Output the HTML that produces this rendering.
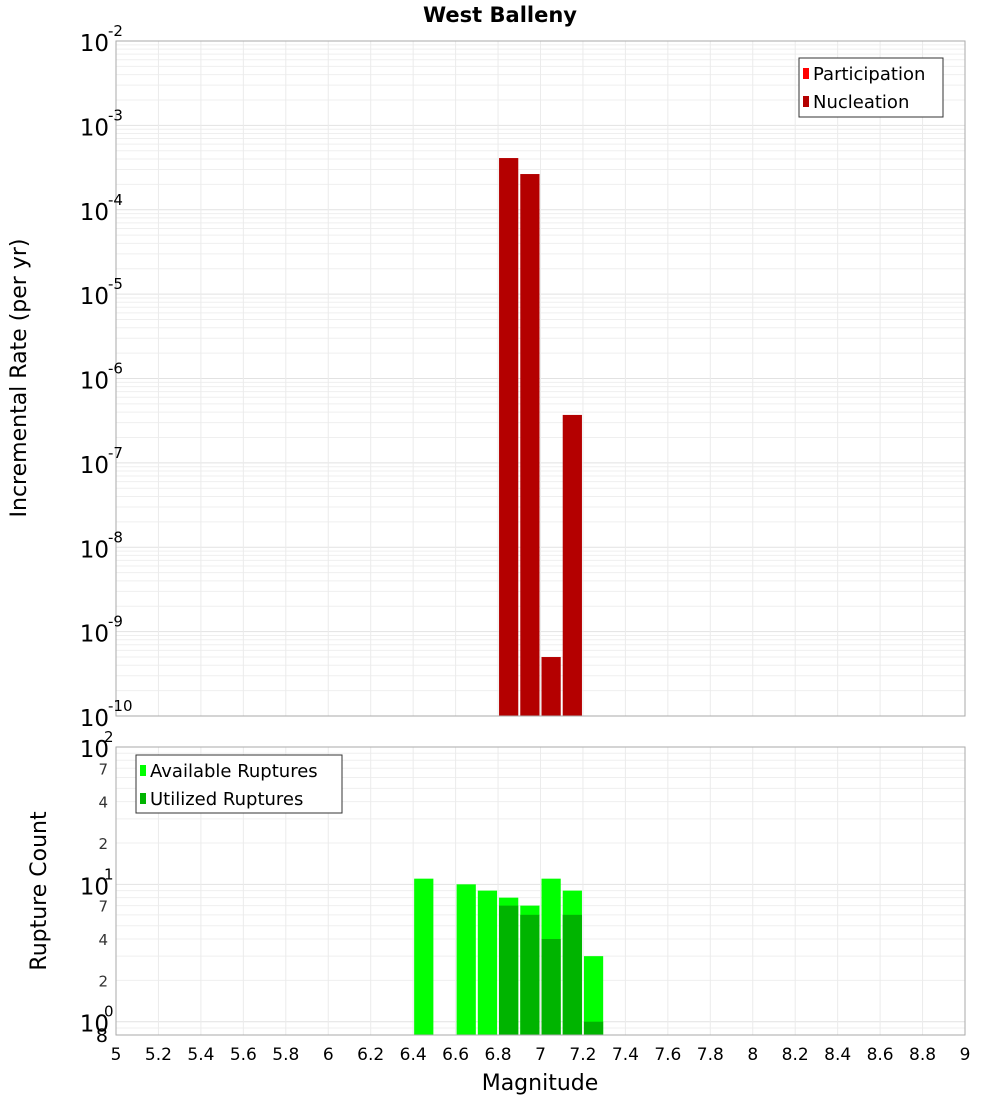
<!DOCTYPE html>
<html><head><meta charset="utf-8"><style>
body{margin:0;background:#fff;}
svg{font-family:"DejaVu Sans","Liberation Sans",sans-serif;}
</style></head><body>
<svg id="c" width="1000" height="1100" xmlns="http://www.w3.org/2000/svg"></svg>
<script>
const topCats=[6.85,6.95,7.05,7.15];
const topVals=[4.1e-4,2.65e-4,5.0e-10,3.7e-7];
const botCats=[6.45,6.65,6.75,6.85,6.95,7.05,7.15,7.25];
const availVals=[11,10,9,8,7,11,9,3];
const utilVals=[0,0,0,7,6,4,6,1];
const xTicks=[5,5.2,5.4,5.6,5.8,6,6.2,6.4,6.6,6.8,7,7.2,7.4,7.6,7.8,8,8.2,8.4,8.6,8.8,9];
const topExps=[-2,-3,-4,-5,-6,-7,-8,-9,-10];
const botMinorLabels=[2,4,7];

const NS="http://www.w3.org/2000/svg";
const svg=document.getElementById('c');
function el(t,a,p){const e=document.createElementNS(NS,t);for(const k in a)e.setAttribute(k,a[k]);(p||svg).appendChild(e);return e;}
const L=116,R=965;
const X=v=>L+(v-5)/4*(R-L);
const T0=41,T1=716;
const YT=v=>T0+(-2-Math.log10(v))/8*(T1-T0);
const B0=747,B1=1035;
const bmin=Math.log10(0.8),bmax=2;
const YB=v=>B0+(bmax-Math.log10(v))/(bmax-bmin)*(B1-B0);

// title
let t=el('text',{x:500,y:22,'text-anchor':'middle','font-size':21,'font-weight':'bold'});t.textContent='West Balleny';


// top plot
let g=el('g',{});
el('rect',{x:L,y:T0,width:R-L,height:T1-T0,fill:'#fff'},g);
for(let e=-10;e<-2;e++)for(let m=1;m<10;m++){const y=YT(m*Math.pow(10,e));el('line',{x1:L,x2:R,y1:y,y2:y,stroke:m==1?'#e2e2e2':'#efefef','stroke-width':1},g);}
xTicks.forEach(v=>{el('line',{x1:X(v),x2:X(v),y1:T0,y2:T1,stroke:'#ebebeb'},g);});
topCats.forEach((c,i)=>{const y=YT(topVals[i]);const r=el('rect',{x:X(c-0.05)+1,y:y,width:X(0.1+5)-L-2,height:T1-y,fill:'#b40000'},g);
});
el('rect',{x:L,y:T0,width:R-L,height:T1-T0,fill:'none',stroke:'#aaa'},g);
topExps.forEach(e=>{const y=YT(Math.pow(10,e));const tx=el('text',{x:109,y:y+10,'text-anchor':'end','font-size':23},g);tx.textContent='10';
const s=el('text',{x:108,y:y-5,'font-size':15},g);s.textContent=String(e);});
t=el('text',{transform:'translate(26,378) rotate(-90)','text-anchor':'middle','font-size':22});t.textContent='Incremental Rate (per yr)';

// top legend
let lg=el('g',{});
el('rect',{x:799,y:58,width:144,height:59,fill:'#fff',stroke:'#333'},lg);
el('rect',{x:803,y:68,width:6,height:11,fill:'#ff0000'},lg);
t=el('text',{x:813,y:80,'font-size':18},lg);t.textContent='Participation';
el('rect',{x:803,y:96,width:6,height:11,fill:'#b40000'},lg);
t=el('text',{x:813,y:108,'font-size':18},lg);t.textContent='Nucleation';

// bottom plot
g=el('g',{});
for(let e=-1;e<2;e++)for(let m=1;m<10;m++){const v=m*Math.pow(10,e);if(v<0.8)continue;const y=YB(v);el('line',{x1:L,x2:R,y1:y,y2:y,stroke:m==1?'#e2e2e2':'#efefef'},g);}
xTicks.forEach(v=>{el('line',{x1:X(v),x2:X(v),y1:B0,y2:B1,stroke:'#ebebeb'},g);});
botCats.forEach((c,i)=>{const bw=X(5.1)-L;
const ya=YB(availVals[i]);const r=el('rect',{x:X(c-0.05)+1,y:ya,width:bw-2,height:B1-ya,fill:'#00ff00'},g);

if(utilVals[i]>0){const yu=YB(utilVals[i]);const u=el('rect',{x:X(c-0.05)+1,y:yu,width:bw-2,height:B1-yu,fill:'#00b400'},g);
}});
el('rect',{x:L,y:B0,width:R-L,height:B1-B0,fill:'none',stroke:'#aaa'},g);
[2,1,0].forEach(e=>{const y=YB(Math.pow(10,e));const tx=el('text',{x:109,y:y+10,'text-anchor':'end','font-size':23},g);tx.textContent='10';
const s=el('text',{x:104,y:y-5,'font-size':15},g);s.textContent=String(e);});
[1,10].forEach(b=>botMinorLabels.forEach(m=>{const y=YB(m*b);const tx=el('text',{x:108,y:y+6,'text-anchor':'end','font-size':15,fill:'#333'},g);tx.textContent=m;}));
t=el('text',{x:108,y:1042,'text-anchor':'end','font-size':19},g);t.textContent='8';
t=el('text',{transform:'translate(46,891) rotate(-90)','text-anchor':'middle','font-size':22});t.textContent='Rupture Count';

lg=el('g',{});
el('rect',{x:136,y:755,width:206,height:58,fill:'#fff',stroke:'#333'},lg);
el('rect',{x:140,y:765,width:6,height:11,fill:'#00ff00'},lg);
t=el('text',{x:150,y:777,'font-size':18},lg);t.textContent='Available Ruptures';
el('rect',{x:140,y:793,width:6,height:11,fill:'#00b400'},lg);
t=el('text',{x:150,y:805,'font-size':18},lg);t.textContent='Utilized Ruptures';

// x axis
xTicks.forEach(v=>{const tx=el('text',{x:X(v),y:1060,'text-anchor':'middle','font-size':17});tx.textContent=String(v);
});
t=el('text',{x:540,y:1090,'text-anchor':'middle','font-size':22});t.textContent='Magnitude';

</script>
</body></html>
